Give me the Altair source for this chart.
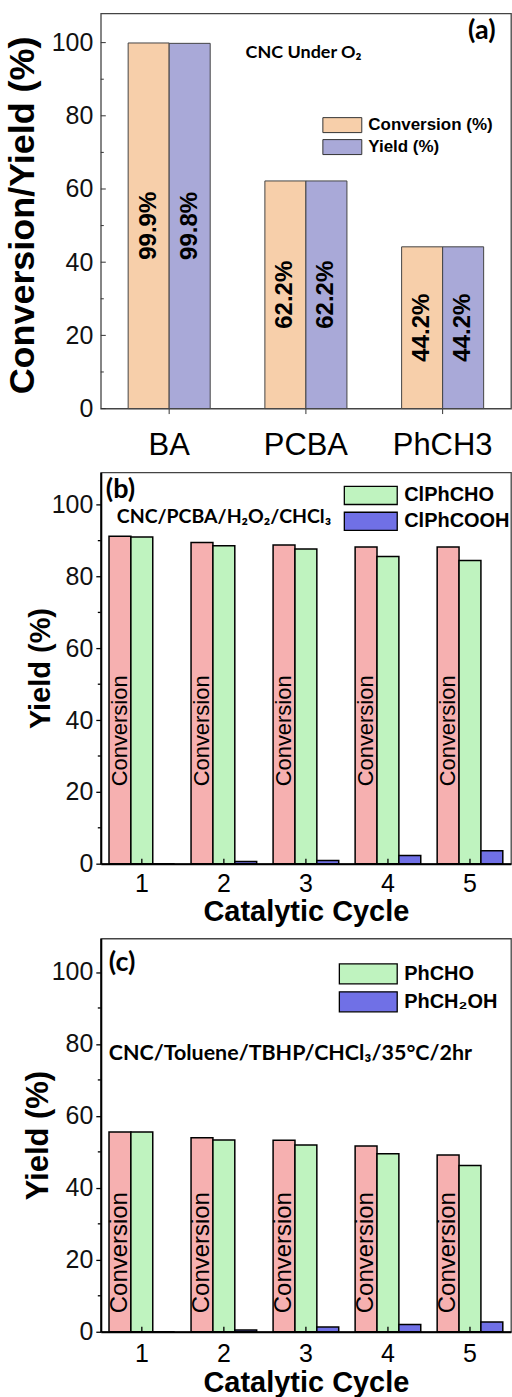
import altair as alt
import pandas as pd

FONT = "Liberation Sans"
AFONT = "Lato"

# ---------------- data ----------------
a_substrates = ["BA", "PCBA", "PhCH3"]
a_series = ["Conversion (%)", "Yield (%)"]
a_conversion = [99.9, 62.2, 44.2]
a_yield = [99.8, 62.2, 44.2]
a_conv_labels = ["99.9%", "62.2%", "44.2%"]
a_yield_labels = ["99.8%", "62.2%", "44.2%"]

cycles = [1, 2, 3, 4, 5]
b_series = ["Conversion", "ClPhCHO", "ClPhCOOH"]
b_conversion = [91.2, 89.5, 88.8, 88.2, 88.2]
b_aldehyde = [91.0, 88.6, 87.7, 85.6, 84.5]
b_acid = [0.0, 0.6, 0.9, 2.3, 3.6]

c_series = ["Conversion", "PhCHO", "PhCH₂OH"]
c_conversion = [55.5, 53.9, 53.2, 51.6, 49.1]
c_aldehyde = [55.5, 53.3, 51.9, 49.5, 46.2]
c_alcohol = [0.0, 0.5, 1.3, 2.0, 2.7]

major_ticks = [0, 20, 40, 60, 80, 100]
minor_ticks = [10, 30, 50, 70, 90]

a_colors = ["#f7cfaa", "#a9a9d8"]
bc_colors = ["#f6b0b0", "#bff3bf", "#7070e6"]

W = 411
HA, HB, HC = 396, 392, 394
LEFT_EXTENT = -100  # common left bound for every panel so plot areas line up


def ticks_df(vals):
    return pd.DataFrame({"value": vals})


def left_anchor():
    # invisible rule that gives every panel the same left extent
    return alt.Chart(pd.DataFrame({"k": [0]})).mark_rule(strokeOpacity=0).encode(
        x=alt.value(LEFT_EXTENT), x2=alt.value(LEFT_EXTENT + 1), y=alt.value(0))


# ---------------- panel (a) ----------------
dfa = pd.DataFrame({
    "substrate": a_substrates * 2,
    "series": [a_series[0]] * 3 + [a_series[1]] * 3,
    "value": a_conversion + a_yield,
    "label": a_conv_labels + a_yield_labels,
})

xa = alt.X("substrate:N", sort=a_substrates, title=None,
           scale=alt.Scale(paddingInner=0.4, paddingOuter=0.2),
           axis=alt.Axis(labelAngle=0, labelFont=FONT, labelFontSize=31, labelColor="black",
                         tickSize=5, tickColor="#333", labelPadding=17, domain=False))
ya_scale = alt.Scale(domain=[0, 108], nice=False)
ya_axis = alt.Axis(values=major_ticks, tickSize=0, labelPadding=8, grid=False, domain=False,
                   labelFont=FONT, labelFontSize=25, labelColor="#111",
                   title="Conversion/Yield (%)", titleFont=FONT, titleFontSize=36,
                   titleFontWeight="bold", titleColor="black", titleX=-78, titleY=HA / 2 + 4,
                   titleAngle=270, titleAlign="center", titleBaseline="middle")
ya = alt.Y("value:Q", scale=ya_scale, axis=ya_axis)
xoff_a = alt.XOffset("series:N", sort=a_series)

bars_a = alt.Chart(dfa).mark_bar(stroke="#444", strokeWidth=1).encode(
    x=xa, xOffset=xoff_a, y=ya,
    fill=alt.Fill("series:N", scale=alt.Scale(domain=a_series, range=a_colors),
                  legend=alt.Legend(title=None, orient="none", legendX=229.5, legendY=99.5,
                                    direction="vertical", padding=0, rowPadding=0,
                                    symbolType="M-1.625,-0.625H1.625V0.625H-1.625Z",
                                    symbolSize=576, symbolStrokeColor="#333", symbolStrokeWidth=1,
                                    labelOffset=13.5, labelFont=FONT, labelFontSize=17,
                                    labelFontWeight="bold", labelColor="black")),
)
text_a = alt.Chart(dfa).mark_text(angle=270, font=FONT, fontSize=24, fontWeight="bold",
                                   color="black", align="center", baseline="middle").transform_calculate(
    mid="datum.value / 2").encode(
    x=xa, xOffset=xoff_a, y=alt.Y("mid:Q", scale=ya_scale, axis=ya_axis), text="label:N")

maj_a = alt.Chart(ticks_df(major_ticks)).mark_rule(color="#333").encode(
    y=ya, x=alt.value(0), x2=alt.value(5))
min_a = alt.Chart(ticks_df(minor_ticks)).mark_rule(color="#333").encode(
    y=ya, x=alt.value(0), x2=alt.value(3))

ann_a1 = alt.Chart(pd.DataFrame({"t": ["CNC Under O₂"]})).mark_text(
    font=AFONT, fontSize=18, fontWeight="bold", color="black", align="left", baseline="middle").encode(
    x=alt.value(145), y=alt.value(40), text="t:N")
ann_a2 = alt.Chart(pd.DataFrame({"t": ["(a)"]})).mark_text(
    font=AFONT, fontSize=27, fontWeight="bold", color="black", align="left", baseline="middle").encode(
    x=alt.value(368), y=alt.value(18), text="t:N")

panel_a = alt.layer(bars_a, text_a, maj_a, min_a, ann_a1, ann_a2, left_anchor()).properties(
    width=W, height=HA)


# ---------------- panels (b) and (c) ----------------
def cycle_panel(series, colors, conv, ald, side, H, ymax, conv_pos, conv_size,
                legend_x, legend_y, sym_path, sym_size, lab_off, ann_rows, title_x, title_size,
                xlab_pad, xtitle_y):
    df = pd.DataFrame({
        "cycle": cycles * 3,
        "series": [series[0]] * 5 + [series[1]] * 5 + [series[2]] * 5,
        "value": conv + ald + side,
    })
    xsc = alt.Scale(paddingInner=0.2, paddingOuter=0.1)
    x = alt.X("cycle:O", title="Catalytic Cycle", scale=xsc,
              axis=alt.Axis(labelAngle=0, labelFont=FONT, labelFontSize=25, labelColor="black",
                            tickSize=0, labelPadding=xlab_pad, domain=True, domainColor="black",
                            domainWidth=2, titleFont=FONT, titleFontSize=29, titleFontWeight="bold",
                            titleColor="black", titleY=xtitle_y, titleBaseline="middle"))
    ysc = alt.Scale(domain=[0, ymax], nice=False)
    y = alt.Y("value:Q", scale=ysc,
              axis=alt.Axis(values=major_ticks, tickSize=5, tickColor="black", tickWidth=1.3,
                            labelPadding=3, grid=False, domain=True, domainColor="black",
                            domainWidth=2, labelFont=FONT, labelFontSize=25, labelColor="#111",
                            title="Yield (%)", titleFont=FONT, titleFontSize=title_size,
                            titleFontWeight="bold", titleColor="black", titleX=title_x,
                            titleY=H / 2, titleAngle=270, titleAlign="center",
                            titleBaseline="middle"))
    xoff = alt.XOffset("series:N", sort=series)
    bars = alt.Chart(df).mark_bar(stroke="black", strokeWidth=1.5).encode(
        x=x, xOffset=xoff, y=y,
        fill=alt.Fill("series:N", scale=alt.Scale(domain=series, range=colors),
                      legend=alt.Legend(values=series[1:], title=None, orient="none",
                                        legendX=legend_x, legendY=legend_y, direction="vertical",
                                        padding=0, rowPadding=0, symbolType=sym_path,
                                        symbolSize=sym_size, symbolStrokeColor="black",
                                        symbolStrokeWidth=1.3, labelOffset=lab_off,
                                        labelFont=FONT, labelFontSize=20, labelFontWeight="bold",
                                        labelColor="black")),
    )
    conv_txt = alt.Chart(df).transform_filter(alt.datum.series == series[0]).mark_text(
        angle=270, font=FONT, fontSize=conv_size, color="black", align="center",
        baseline="middle").encode(
        x=x, xOffset=xoff, y=alt.datum(conv_pos), text=alt.value("Conversion"))
    minor = alt.Chart(ticks_df(minor_ticks)).mark_rule(color="black", strokeWidth=1.3).encode(
        y=y, x=alt.value(-3), x2=alt.value(0))
    xticks = alt.Chart(pd.DataFrame({"cycle": cycles})).mark_rule(color="black", strokeWidth=1.3).encode(
        x=x, y=alt.value(H - 5), y2=alt.value(H))
    anns = []
    for txt, ax, ay, fs in ann_rows:
        anns.append(alt.Chart(pd.DataFrame({"t": [txt]})).mark_text(
            font=AFONT, fontSize=fs, fontWeight="bold", color="black", align="left",
            baseline="middle").encode(x=alt.value(ax), y=alt.value(ay), text="t:N"))
    return alt.layer(bars, conv_txt, minor, xticks, *anns, left_anchor()).properties(
        width=W, height=H)


panel_b = cycle_panel(
    b_series, bc_colors, b_conversion, b_aldehyde, b_acid, HB, 109, 37, 22,
    257, 9.5, "M-2.12,-0.73H2.12V0.73H-2.12Z", 625, 20,
    [("(b)", 5, 18, 27), ("CNC/PCBA/H₂O₂/CHCl₃", 16, 44.7, 19.5)], -60, 29, 8, 47.7)

panel_c = cycle_panel(
    c_series, bc_colors, c_conversion, c_aldehyde, c_alcohol, HC, 109.3, 22, 24,
    253, 20.4, "M-2.07,-0.714H2.07V0.714H-2.07Z", 784, 21,
    [("(c)", 8, 24.4, 27), ("CNC/Toluene/TBHP/CHCl₃/35°C/2hr", 8, 115.7, 21.5)], -62.5, 31, 10, 50.7)

top = alt.vconcat(panel_a, panel_b, spacing=10).resolve_scale(
    x="independent", y="independent", fill="independent", xOffset="independent").resolve_legend(
    fill="independent")

chart = alt.vconcat(top, panel_c, spacing=10).resolve_scale(
    x="independent", y="independent", fill="independent", xOffset="independent").resolve_legend(
    fill="independent").properties(
    padding={"left": 0, "top": 11, "right": 0, "bottom": 0}, background="white"
).configure_view(stroke="#444", strokeWidth=1.3)

chart.save("out.html", embed_options={"renderer": "svg", "actions": False})
